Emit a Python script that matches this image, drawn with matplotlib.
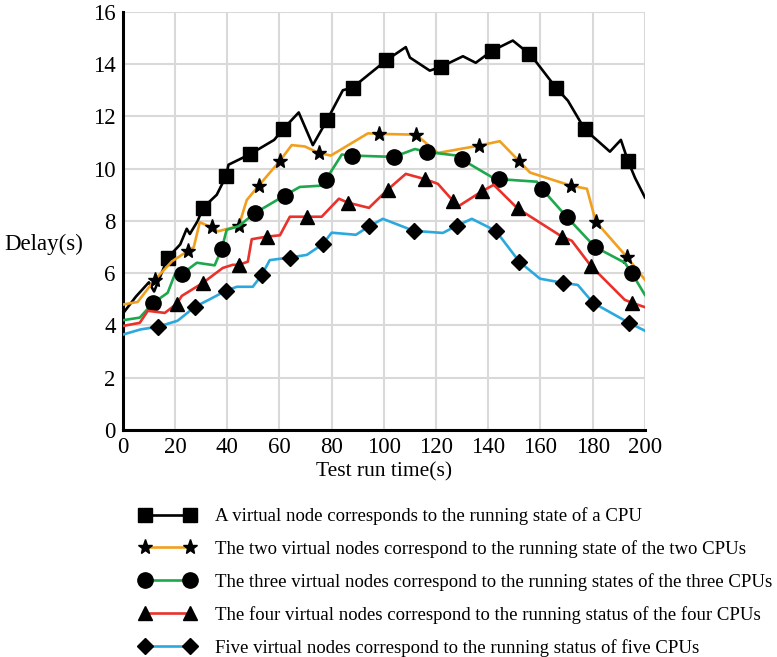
import matplotlib.pyplot as plt
from matplotlib.lines import Line2D

plt.rcParams['font.family'] = ['Liberation Serif', 'DejaVu Serif']

# Data
x1 = [0, 5, 10, 12, 17.3, 22, 24.5, 25.7, 28.7, 30.7, 36, 39.5, 40.5, 48.7, 58, 61.3, 67.4, 72.8, 78.2,
      84.3, 88, 101, 108.4, 110, 117.6, 122, 130.3, 135.2, 141.3, 149.4, 155.6, 158.6, 165.9, 170.5,
      177, 186.6, 190.8, 193.5, 196.2, 200]
y1 = [4.45, 5.1, 5.65, 5.3, 6.6, 7.1, 7.7, 7.5, 8.0, 8.5, 9.0, 9.7, 10.15, 10.55, 11.1, 11.5, 12.15, 10.9,
      11.85, 13.0, 13.1, 14.15, 14.65, 14.25, 13.75, 13.9, 14.3, 14.05, 14.5, 14.9, 14.4, 14.05, 13.1,
      12.6, 11.5, 10.65, 11.1, 10.3, 9.65, 8.9]
m1 = [17.3, 30.7, 39.5, 48.7, 61.3, 78.2, 88, 101, 122, 141.3, 155.6, 165.9, 177, 193.5]

x2 = [0, 5.7, 12.3, 18.8, 24.9, 27.2, 29.5, 34, 36.4, 40.2, 44.4, 47.5, 52.1, 60.2, 64.7, 69.7, 75.1,
      79.7, 93.9, 98, 112.3, 120.7, 136.4, 144.4, 151.7, 156, 171.6, 177.8, 181.2, 193, 200]
y2 = [4.8, 4.9, 5.75, 6.45, 6.85, 7.0, 7.95, 7.75, 7.6, 7.7, 7.8, 8.8, 9.35, 10.3, 10.9, 10.85, 10.6,
      10.5, 11.35, 11.33, 11.3, 10.6, 10.88, 11.05, 10.3, 9.85, 9.35, 9.23, 7.97, 6.63, 5.75]
m2 = [12.3, 24.9, 34, 44.4, 52.1, 60.2, 75.1, 98, 112.3, 136.4, 151.7, 171.6, 181.2, 193]

x3 = [0, 6.5, 11.5, 17.2, 20, 22.6, 28.4, 35.2, 37.9, 39.8, 44.4, 50.6, 62, 67.8, 76.2, 77.8, 83.9,
      87.7, 103.8, 111.9, 116.5, 128, 129.9, 141.8, 144, 158.6, 160.5, 170, 180.8, 192.3, 195, 200]
y3 = [4.2, 4.3, 4.85, 5.25, 5.97, 5.97, 6.4, 6.3, 6.93, 7.66, 7.8, 8.3, 8.97, 9.3, 9.35, 9.58, 10.54,
      10.5, 10.45, 10.75, 10.64, 10.5, 10.35, 9.65, 9.6, 9.5, 9.23, 8.16, 7.01, 6.4, 6.0, 5.17]
m3 = [11.5, 22.6, 37.9, 50.6, 62, 77.8, 87.7, 103.8, 116.5, 129.9, 144, 160.5, 170, 180.8, 195]

x4 = [0, 6.5, 9.6, 16.1, 20.7, 22.6, 30.7, 38.3, 42.1, 44.4, 47.9, 49.4, 55.2, 60.2, 64, 70.7, 76.2,
      82.8, 86.2, 94.3, 101.5, 108.4, 115.7, 120.7, 126.4, 128.4, 137.5, 142.1, 151.2, 168.2, 172,
      179.3, 192.3, 195, 200]
y4 = [3.98, 4.1, 4.56, 4.48, 4.83, 5.13, 5.63, 6.2, 6.32, 6.32, 6.44, 7.3, 7.4, 7.45, 8.16, 8.16, 8.16,
      8.85, 8.7, 8.5, 9.2, 9.8, 9.6, 9.42, 8.78, 8.55, 9.13, 9.38, 8.48, 7.4, 7.24, 6.28, 4.98, 4.87, 4.7]
m4 = [20.7, 30.7, 44.4, 55.2, 70.7, 86.2, 101.5, 115.7, 126.4, 137.5, 151.2, 168.2, 179.3, 195]

x5 = [0, 6.9, 13.4, 21, 27.6, 33.3, 39.5, 43.7, 49.8, 53.3, 56.3, 64, 70.5, 76.6, 80, 89.3, 94.3, 99.6,
      111.5, 122.6, 128, 133.7, 142.9, 151.9, 159.8, 168.6, 174.3, 180.1, 193.9, 200]
y5 = [3.65, 3.85, 3.95, 4.18, 4.71, 5.0, 5.33, 5.48, 5.48, 5.94, 6.5, 6.6, 6.7, 7.11, 7.55, 7.47, 7.79,
      8.08, 7.62, 7.54, 7.82, 8.08, 7.62, 6.44, 5.79, 5.63, 5.55, 4.87, 4.1, 3.8]
m5 = [13.4, 27.6, 39.5, 53.3, 64, 76.6, 94.3, 111.5, 128, 142.9, 151.9, 168.6, 180.1, 193.9]

labels = [
    "A virtual node corresponds to the running state of a CPU",
    "The two virtual nodes correspond to the running state of the two CPUs",
    "The three virtual nodes correspond to the running states of the three CPUs",
    "The four virtual nodes correspond to the running status of the four CPUs",
    "Five virtual nodes correspond to the running status of five CPUs",
]

series = [(x1, y1, m1), (x2, y2, m2), (x3, y3, m3), (x4, y4, m4), (x5, y5, m5)]
colors = ['#000000', '#F0A01E', '#1DA84C', '#E8322B', '#2BA9DF']
markers = ['s', '*', 'o', '^', 'D']
msizes = [10, 11, 11, 10, 8]

fig = plt.figure(figsize=(7.77, 6.57), dpi=100)
ax = fig.add_axes([0.158, 0.3455, 0.672, 0.6365])

handles = []
for (xs, ys, ms), c, mk, sz in zip(series, colors, markers, msizes):
    idx = [xs.index(m) for m in ms]
    ax.plot(xs, ys, color=c, lw=1.9, marker=mk, markevery=idx, ms=sz,
            mfc='black', mec='black', zorder=3)
    handles.append(Line2D([], [], color=c, lw=1.9, marker=mk, ms=sz, mfc='black', mec='black'))

ax.set_xlim(0, 200)
ax.set_ylim(0, 16)
ax.set_xticks(range(0, 201, 20))
ax.set_yticks(range(0, 17, 2))
ax.grid(True, color='#D9D9D9', lw=1.5)
ax.set_axisbelow(True)
ax.tick_params(length=0, labelsize=16.5, pad=5)
for s in ['top', 'right']:
    ax.spines[s].set_visible(False)
for s in ['left', 'bottom']:
    ax.spines[s].set_linewidth(2.2)
    ax.spines[s].set_color('black')

ax.set_xlabel('Test run time(s)', fontsize=15.5, labelpad=3)
fig.text(0.006, 1 - 244 / 657, 'Delay(s)', fontsize=16.5, ha='left', va='center')

fig.legend(handles, labels, loc='upper left', bbox_to_anchor=(0.18, 0.228), frameon=False,
           numpoints=2, handlelength=3.0, handletextpad=1.0, fontsize=13.5, labelspacing=0.8,
           borderaxespad=0, borderpad=0)

fig.savefig('out.png', dpi=100)
